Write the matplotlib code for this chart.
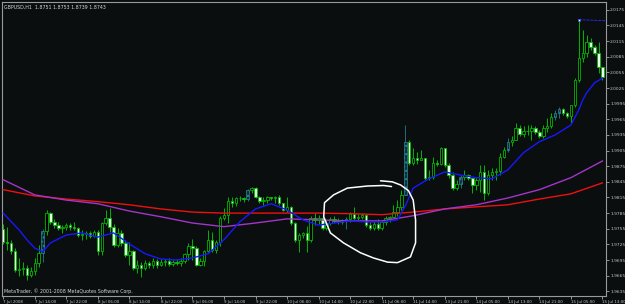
import numpy as np
import matplotlib
matplotlib.use("Agg")
import matplotlib.pyplot as plt

# GBPUSD H1, 7 Jul 2008 06:00 .. 15 Jul 2008 13:00 (one value per bar)
close = [
    1.9730, 1.9728, 1.9713, 1.9676, 1.9678, 1.9680, 1.9667, 1.9674, 1.9690, 1.9709,
    1.9751, 1.9785, 1.9768, 1.9762, 1.9757, 1.9759, 1.9762, 1.9759, 1.9757, 1.9743,
    1.9745, 1.9747, 1.9741, 1.9749, 1.9713, 1.9766, 1.9776, 1.9759, 1.9724, 1.9747,
    1.9728, 1.9705, 1.9713, 1.9680, 1.9686, 1.9680, 1.9690, 1.9686, 1.9693, 1.9686,
    1.9691, 1.9693, 1.9688, 1.9691, 1.9690, 1.9693, 1.9707, 1.9722, 1.9718, 1.9686,
    1.9693, 1.9713, 1.9734, 1.9714, 1.9730, 1.9776, 1.9782, 1.9808, 1.9805, 1.9814,
    1.9814, 1.9812, 1.9830, 1.9833, 1.9816, 1.9808, 1.9810, 1.9816, 1.9814, 1.9816,
    1.9805, 1.9791, 1.9797, 1.9766, 1.9734, 1.9743, 1.9747, 1.9734, 1.9776, 1.9772,
    1.9776, 1.9757, 1.9766, 1.9774, 1.9770, 1.9768, 1.9770, 1.9774, 1.9784, 1.9776,
    1.9778, 1.9782, 1.9762, 1.9757, 1.9764, 1.9757, 1.9768, 1.9776, 1.9778, 1.9787,
    1.9797, 1.9820, 1.9922, 1.9881, 1.9891, 1.9887, 1.9891, 1.9853, 1.9855, 1.9881,
    1.9879, 1.9910, 1.9878, 1.9858, 1.9833, 1.9841, 1.9855, 1.9858, 1.9853, 1.9839,
    1.9849, 1.9864, 1.9824, 1.9858, 1.9864, 1.9866, 1.9893, 1.9906, 1.9922, 1.9925,
    1.9948, 1.9937, 1.9943, 1.9943, 1.9948, 1.9941, 1.9933, 1.9948, 1.9952, 1.9970,
    1.9977, 1.9985, 1.9977, 1.9972, 1.9993, 2.0041, 2.0083, 2.0092, 2.0113, 2.0104,
    2.0092, 2.0065, 2.0046,
]
high = [
    1.9764, 1.9759, 1.9734, 1.9718, 1.9699, 1.9691, 1.9686, 1.9682, 1.9699, 1.9724,
    1.9755, 1.9791, 1.9787, 1.9774, 1.9768, 1.9762, 1.9766, 1.9766, 1.9768, 1.9759,
    1.9753, 1.9751, 1.9751, 1.9753, 1.9753, 1.9768, 1.9791, 1.9795, 1.9764, 1.9757,
    1.9753, 1.9734, 1.9730, 1.9714, 1.9695, 1.9691, 1.9695, 1.9693, 1.9699, 1.9697,
    1.9697, 1.9697, 1.9699, 1.9695, 1.9697, 1.9699, 1.9709, 1.9728, 1.9736, 1.9722,
    1.9699, 1.9714, 1.9753, 1.9749, 1.9734, 1.9780, 1.9795, 1.9816, 1.9816, 1.9816,
    1.9818, 1.9816, 1.9832, 1.9835, 1.9835, 1.9818, 1.9816, 1.9818, 1.9816, 1.9818,
    1.9820, 1.9805, 1.9816, 1.9799, 1.9768, 1.9747, 1.9749, 1.9761, 1.9780, 1.9785,
    1.9782, 1.9780, 1.9770, 1.9778, 1.9780, 1.9776, 1.9774, 1.9778, 1.9787, 1.9797,
    1.9784, 1.9785, 1.9784, 1.9768, 1.9770, 1.9774, 1.9772, 1.9780, 1.9780, 1.9801,
    1.9810, 1.9830, 1.9954, 1.9925, 1.9910, 1.9902, 1.9906, 1.9891, 1.9868, 1.9893,
    1.9887, 1.9912, 1.9910, 1.9881, 1.9864, 1.9849, 1.9858, 1.9868, 1.9860, 1.9853,
    1.9853, 1.9878, 1.9878, 1.9868, 1.9872, 1.9872, 1.9901, 1.9912, 1.9929, 1.9933,
    1.9958, 1.9954, 1.9952, 1.9954, 1.9954, 1.9952, 1.9945, 1.9954, 1.9968, 1.9977,
    1.9983, 1.9989, 1.9987, 1.9979, 1.9993, 2.0044, 2.0156, 2.0136, 2.0127, 2.0121,
    2.0108, 2.0113, 2.0065,
]
low = [
    1.9726, 1.9714, 1.9707, 1.9672, 1.9665, 1.9667, 1.9657, 1.9663, 1.9667, 1.9682,
    1.9691, 1.9743, 1.9764, 1.9757, 1.9753, 1.9747, 1.9753, 1.9753, 1.9753, 1.9739,
    1.9734, 1.9736, 1.9738, 1.9739, 1.9705, 1.9705, 1.9762, 1.9749, 1.9720, 1.9720,
    1.9722, 1.9701, 1.9686, 1.9676, 1.9670, 1.9663, 1.9676, 1.9680, 1.9680, 1.9680,
    1.9684, 1.9684, 1.9684, 1.9684, 1.9686, 1.9684, 1.9690, 1.9695, 1.9695, 1.9684,
    1.9684, 1.9684, 1.9711, 1.9711, 1.9709, 1.9722, 1.9772, 1.9766, 1.9797, 1.9799,
    1.9808, 1.9807, 1.9808, 1.9824, 1.9814, 1.9805, 1.9801, 1.9805, 1.9810, 1.9805,
    1.9801, 1.9789, 1.9787, 1.9762, 1.9730, 1.9711, 1.9738, 1.9711, 1.9730, 1.9762,
    1.9764, 1.9753, 1.9753, 1.9762, 1.9766, 1.9764, 1.9764, 1.9755, 1.9768, 1.9772,
    1.9772, 1.9774, 1.9759, 1.9753, 1.9753, 1.9753, 1.9753, 1.9762, 1.9768, 1.9776,
    1.9780, 1.9791, 1.9820, 1.9878, 1.9878, 1.9879, 1.9887, 1.9849, 1.9849, 1.9851,
    1.9876, 1.9878, 1.9874, 1.9853, 1.9830, 1.9830, 1.9833, 1.9849, 1.9849, 1.9824,
    1.9830, 1.9826, 1.9810, 1.9820, 1.9849, 1.9849, 1.9858, 1.9891, 1.9902, 1.9914,
    1.9925, 1.9933, 1.9931, 1.9935, 1.9925, 1.9937, 1.9929, 1.9929, 1.9941, 1.9948,
    1.9964, 1.9968, 1.9973, 1.9968, 1.9958, 1.9989, 2.0037, 2.0075, 2.0085, 2.0098,
    2.0089, 2.0054, 2.0041,
]
first_open = 1.9755
teal_bars = [10, 62, 87, 102, 116, 128, 140, 141]

# moving averages, read at selected bars
blue_bars = [0, 4, 6, 8, 10, 12, 16, 20, 24, 28, 32, 36, 40, 44, 48, 52, 56, 60, 64,
             68, 72, 76, 80, 84, 88, 92, 96, 100, 102, 104, 108, 112, 116, 120, 124,
             128, 132, 136, 140, 144, 146, 147, 148, 150, 152]
blue_ma = [1.9785, 1.9753, 1.9734, 1.9718, 1.9711, 1.9728, 1.9743, 1.9747, 1.9739,
           1.9747, 1.9726, 1.9707, 1.9697, 1.9695, 1.9699, 1.9707, 1.9734, 1.9768,
           1.9793, 1.9803, 1.9791, 1.9772, 1.9762, 1.9766, 1.9770, 1.9768, 1.9768,
           1.9772, 1.9799, 1.9833, 1.9851, 1.9864, 1.9858, 1.9853, 1.9851, 1.9868,
           1.9901, 1.9922, 1.9935, 1.9954, 1.9983, 2.0002, 2.0016, 2.0035, 2.0044]
slow_bars = list(range(0, 153, 8))
magenta_ma = [1.9849, 1.9820, 1.9810, 1.9803, 1.9789, 1.9778, 1.9766, 1.9759, 1.9766,
              1.9774, 1.9772, 1.9770, 1.9770, 1.9780, 1.9793, 1.9801, 1.9814, 1.9830,
              1.9853, 1.9885]
red_ma = [1.9830, 1.9818, 1.9812, 1.9807, 1.9801, 1.9793, 1.9787, 1.9785, 1.9785,
          1.9785, 1.9785, 1.9784, 1.9782, 1.9787, 1.9793, 1.9797, 1.9801, 1.9812,
          1.9822, 1.9843]

# hand drawn loop around the consolidation (open stroke, ends overlap)
loop_bars = [95.7, 98.7, 100.8, 102.8, 104.0, 104.6, 104.6, 103.3, 100.0, 97.5, 93.9,
             90.6, 86.3, 83.0, 81.3, 81.5, 83.8, 87.3, 92.4, 96.5, 98.5]
loop_price = [1.9847, 1.9845, 1.9839, 1.9828, 1.9810, 1.9772, 1.9728, 1.9701, 1.9690,
              1.9691, 1.9699, 1.9709, 1.9728, 1.9747, 1.9778, 1.9805, 1.9820, 1.9833,
              1.9837, 1.9838, 1.9836]

time_labels = ["7 Jul 2008", "7 Jul 14:00", "7 Jul 22:00", "8 Jul 06:00", "8 Jul 14:00",
               "8 Jul 22:00", "9 Jul 06:00", "9 Jul 14:00", "9 Jul 22:00", "10 Jul 06:00",
               "10 Jul 14:00", "10 Jul 22:00", "11 Jul 06:00", "11 Jul 14:00",
               "13 Jul 21:00", "14 Jul 05:00", "14 Jul 13:00", "14 Jul 21:00",
               "15 Jul 05:00", "15 Jul 13:00"]
price_ticks = [1.9635 + 0.003 * k for k in range(19)]

BG = "#0a0e0e"
GREEN = "#00b800"
FG = "#c8c8c8"

c = np.array(close)
o = np.array([first_open] + close[:-1])
h = np.maximum(np.array(high), np.maximum(o, c))
l = np.minimum(np.array(low), np.minimum(o, c))
x = np.arange(len(c))

fig = plt.figure(figsize=(6.25, 3.04), dpi=100, facecolor=BG)
ax = fig.add_axes([2 / 625, 8 / 304, 604 / 625, 294 / 304])
ax.set_facecolor(BG)

bottom = np.minimum(o, c)
height = np.maximum(np.abs(c - o), 0.00004)
up = c >= o
teal = np.isin(x, teal_bars)

ax.vlines(x[~teal], l[~teal], h[~teal], color=GREEN, lw=0.7, zorder=1)
ax.vlines(x[teal], l[teal], h[teal], color="#1d6f7c", lw=0.7, zorder=1)
m = up & ~teal
ax.bar(x[m], height[m], 0.62, bottom[m], facecolor="black", edgecolor=GREEN, lw=0.6, zorder=2)
m = ~up & ~teal
ax.bar(x[m], height[m], 0.62, bottom[m], facecolor="#e6ffe6", edgecolor=GREEN, lw=0.6, zorder=2)
ax.bar(x[teal], height[teal], 0.62, bottom[teal], facecolor="#0c3038", edgecolor="#2a8a98",
       lw=0.5, hatch="....", zorder=2)

ax.plot(slow_bars, red_ma, color="#ee1010", lw=1.0, zorder=3)
ax.plot(slow_bars, magenta_ma, color="#a335c8", lw=1.0, zorder=3)
ax.plot(blue_bars, blue_ma, color="#1818ff", lw=1.0, zorder=4)

# high marker line from the spike bar
ax.plot([146, 153], [h[146], h[146] - 0.0002], color="#2a2ae0", lw=0.7, ls=(0, (3, 1)), zorder=4)
ax.plot([146], [h[146]], marker="s", ms=2, mfc="white", mec="#4040ff", mew=0.5, zorder=5)

ax.plot(loop_bars, loop_price, color="white", lw=1.1, zorder=6,
        solid_capstyle="round", solid_joinstyle="round")

ax.set_xlim(-0.3, 152.9)
ax.set_ylim(1.9626, 2.0190)

ax.yaxis.tick_right()
ax.set_yticks(price_ticks)
ax.set_yticklabels([f"{p:.4f}" for p in price_ticks])
ax.set_xticks(slow_bars)
ax.set_xticklabels(time_labels, ha="left")
ax.tick_params(colors=FG, labelsize=3.2, length=2, width=0.5, pad=1)
ax.tick_params(axis="x", labelsize=2.9)
for s in ax.spines.values():
    s.set_color("#9a9a9a")
    s.set_linewidth(0.8)

ax.text(0.003, 0.992, "GBPUSD,H1  1.8751 1.8753 1.8739 1.8743", transform=ax.transAxes,
        va="top", ha="left", fontsize=3.4, color="#d8d8d8")
ax.text(0.003, 0.017, "MetaTrader, \u00a9 2001-2008 MetaQuotes Software Corp.",
        transform=ax.transAxes, va="center", ha="left", fontsize=3.4, color="#d8d8d8")

fig.savefig("out.png", dpi=100, facecolor=BG)
